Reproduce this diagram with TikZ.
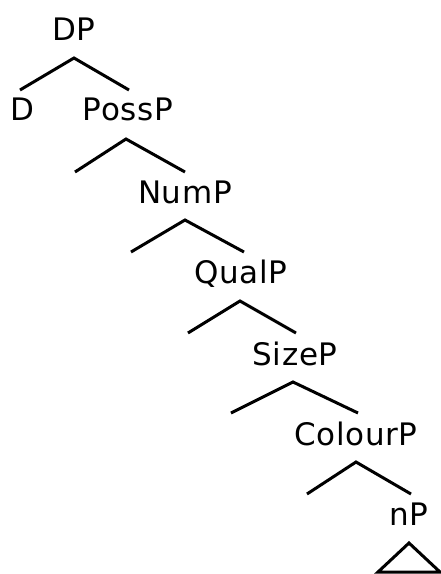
\documentclass[tikz,border=0pt]{standalone}
\usepackage{fontspec}
\setmainfont{DejaVu Sans}[LetterSpace=2]
\usepackage{tikz}
\tikzset{every picture/.style={line width=3pt}}
\tikzset{lbl/.style={anchor=base,inner sep=0pt,font=\fontsize{31}{36}\selectfont}}

\begin{document}
\begin{tikzpicture}[x=1pt,y=1pt,yscale=-1]
\useasboundingbox (0,0) rectangle (440,574);

%Labels
\node[lbl] (dp) at (74,40) {DP};
\node[lbl] (d) at (22,120) {D};
\node[lbl] (possp) at (128,120) {PossP};
\node[lbl] (nump) at (185,203) {NumP};
\node[lbl] (qualp) at (241,283) {QualP};
\node[lbl] (sizep) at (295,365) {SizeP};
\node[lbl] (colourp) at (356,445) {ColourP};
\node[lbl] (np) at (409,525) {nP};

%Branch points
\coordinate (dpTop) at (74,58);
\coordinate (dpL) at (20,90);
\coordinate (dpR) at (129,90);
\coordinate (posspTop) at (126,139);
\coordinate (posspL) at (75,172);
\coordinate (posspR) at (185,172);
\coordinate (numpTop) at (185,220);
\coordinate (numpL) at (131,252);
\coordinate (numpR) at (244,252);
\coordinate (qualpTop) at (240,301);
\coordinate (qualpL) at (188,333);
\coordinate (qualpR) at (296,333);
\coordinate (sizepTop) at (293,382);
\coordinate (sizepL) at (231,413);
\coordinate (sizepR) at (358,413);
\coordinate (colourpTop) at (356,462);
\coordinate (colourpL) at (307,494);
\coordinate (colourpR) at (411,494);

%Straight Lines
\draw (dpL) -- (dpTop) -- (dpR);
\draw (posspL) -- (posspTop) -- (posspR);
\draw (numpL) -- (numpTop) -- (numpR);
\draw (qualpL) -- (qualpTop) -- (qualpR);
\draw (sizepL) -- (sizepTop) -- (sizepR);
\draw (colourpL) -- (colourpTop) -- (colourpR);

%Shape: Triangle
\coordinate (npTop) at (409,543);
\draw (npTop) -- (378,572) -- (440,572) -- cycle;

\end{tikzpicture}
\end{document}
